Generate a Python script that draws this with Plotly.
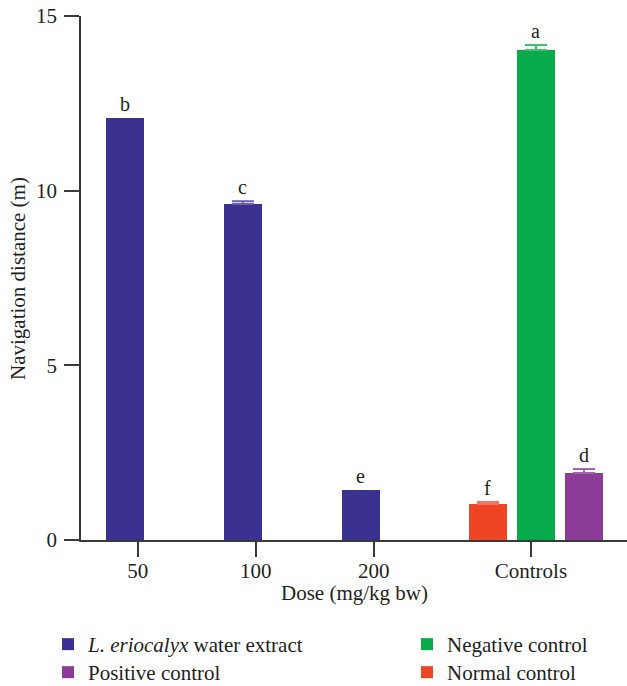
import plotly.graph_objects as go

# ---- data ----
tick_labels = ["50", "100", "200", "Controls"]
tick_pos = [0, 1, 2, 3.333]

extract_doses = ["50", "100", "200"]
extract_values = [12.08, 9.62, 1.43]
extract_err = [None, 0.08, None]
extract_letters = ["b", "c", "e"]

control_names = ["Normal control", "Negative control", "Positive control"]
control_values = [1.03, 14.03, 1.92]
control_err = [0.05, 0.13, 0.12]
control_letters = ["f", "a", "d"]

# ---- styling ----
FONT = "Liberation Serif"
FS = 21
TXT = "#231f20"
AX = "#3a3a3a"
C_BLUE = "#3b3190"
C_GREEN = "#07ab4c"
C_ORANGE = "#ef4527"
C_PURPLE = "#8a3c96"
BAR_W = 0.322

W, H = 627, 686
ML, MR, MT, MB = 81, 0, 16, 146
PW, PH = W - ML - MR, H - MT - MB


def px_x(px):
    return (px - ML) / PW


def px_y(py):
    return (H - MB - py) / PH


pos_of = dict(zip(tick_labels, tick_pos))
blue_x = [pos_of[d] - 0.108 for d in extract_doses]
ctrl_offsets = {"Normal control": -0.364, "Negative control": 0.042, "Positive control": 0.449}
ctrl_colors = {"Normal control": C_ORANGE, "Negative control": C_GREEN, "Positive control": C_PURPLE}
ctrl_light = {"Negative control": "#3cc070", "Positive control": "#a064aa", "Normal control": "#f5765e"}
ctrl_legend = {"Negative control": "legend2", "Positive control": "legend3", "Normal control": "legend4"}
ctrl_x = {n: pos_of["Controls"] + ctrl_offsets[n] for n in control_names}

fig = go.Figure()


def err(arr, color):
    return dict(type="data", symmetric=False, array=arr, arrayminus=[0] * len(arr),
                color=color, thickness=2, width=11, visible=True)


# extract bars
fig.add_trace(go.Bar(x=blue_x, y=extract_values, width=BAR_W, marker_color=C_BLUE,
                     marker_line_width=0, name="<i>L. eriocalyx</i> water extract",
                     legend="legend"))
# error bars only where an SD is shown
ex = [x for x, e in zip(blue_x, extract_err) if e is not None]
ey = [v for v, e in zip(extract_values, extract_err) if e is not None]
ee = [e for e in extract_err if e is not None]
fig.add_trace(go.Scatter(x=ex, y=ey, mode="markers", marker=dict(size=1, opacity=0),
                         error_y=err(ee, "#6a5fb0"), showlegend=False, hoverinfo="skip"))

for n in ["Negative control", "Positive control", "Normal control"]:
    i = control_names.index(n)
    fig.add_trace(go.Bar(x=[ctrl_x[n]], y=[control_values[i]], width=BAR_W,
                         marker_color=ctrl_colors[n], marker_line_width=0, name=n,
                         legend=ctrl_legend[n],
                         error_y=err([control_err[i]], ctrl_light[n])))

annos = []
for x, v, e, t in zip(blue_x, extract_values, extract_err, extract_letters):
    annos.append(dict(x=x, y=v + (e or 0), text=t, showarrow=False, yanchor="bottom", yshift=1,
                      font=dict(family=FONT, size=20, color=TXT)))
for n, v, e, t in zip(control_names, control_values, control_err, control_letters):
    annos.append(dict(x=ctrl_x[n], y=v + e, text=t, showarrow=False, yanchor="bottom", yshift=1,
                      font=dict(family=FONT, size=20, color=TXT)))
annos.append(dict(x=px_x(354), y=px_y(593), xref="paper", yref="paper",
                  text="Dose (mg/kg bw)", showarrow=False, xanchor="center", yanchor="middle",
                  font=dict(family=FONT, size=FS, color=TXT)))
annos.append(dict(x=px_x(18), y=px_y(279), xref="paper", yref="paper",
                  text="Navigation distance (m)", showarrow=False, textangle=-90,
                  xanchor="center", yanchor="middle",
                  font=dict(family=FONT, size=FS, color=TXT)))

leg_common = dict(orientation="v", xanchor="left", yanchor="top", tracegroupgap=0,
                  font=dict(family=FONT, size=FS, color=TXT), itemwidth=30,
                  bgcolor="rgba(0,0,0,0)")

fig.update_layout(
    width=W, height=H,
    margin=dict(l=ML, r=MR, t=MT, b=MB, autoexpand=False),
    plot_bgcolor="white", paper_bgcolor="white",
    font=dict(family=FONT, size=FS, color=TXT),
    bargap=0,
    showlegend=True,
    legend=dict(x=px_x(48), y=px_y(624), **leg_common),
    legend2=dict(x=px_x(407), y=px_y(624), **leg_common),
    legend3=dict(x=px_x(48), y=px_y(652), **leg_common),
    legend4=dict(x=px_x(407), y=px_y(652), **leg_common),
    annotations=annos,
    xaxis=dict(range=[-0.48, 4.147], tickmode="array", tickvals=tick_pos, ticktext=tick_labels,
               showline=True, linecolor=AX, linewidth=1.5, ticks="outside",
               ticklen=15, tickwidth=1.5, tickcolor=AX, showgrid=False, zeroline=False,
               ticklabelstandoff=-4,
               automargin=False, tickfont=dict(family=FONT, size=FS, color=TXT)),
    yaxis=dict(range=[0, 15], tickvals=[0, 5, 10, 15], showline=True, linecolor=AX,
               linewidth=1.5, ticks="outside", ticklen=15, tickwidth=1.5, tickcolor=AX,
               showgrid=False, zeroline=False, automargin=False, ticklabelstandoff=3,
               tickfont=dict(family=FONT, size=FS, color=TXT)),
)

fig.write_html("out.html", config={"displayModeBar": False},
               post_script="document.body.style.margin='0';")
